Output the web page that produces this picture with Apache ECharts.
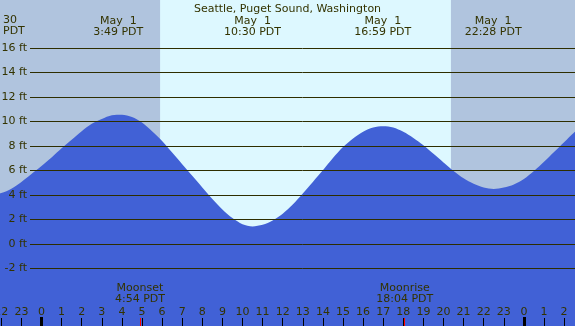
<!DOCTYPE html>
<html>
<head>
<meta charset="utf-8">
<script src="https://cdn.jsdelivr.net/npm/echarts@6/dist/echarts.min.js"></script>
<style>
  html, body { margin: 0; padding: 0; }
  #main { width: 575px; height: 326px; }
</style>
</head>
<body>
<div id="main"></div>
<script>
// tide heights (ft), every half hour from 21:00 Apr 30 (hour -3) to 03:00 May 2 (hour 27)
var hours = [-3, -2.5, -2, -1.5, -1, -0.5, 0, 0.5, 1, 1.5, 2, 2.5, 3, 3.5, 4, 4.5, 5, 5.5, 6, 6.5,
  7, 7.5, 8, 8.5, 9, 9.5, 10, 10.5, 11, 11.5, 12, 12.5, 13, 13.5, 14, 14.5, 15, 15.5, 16, 16.5,
  17, 17.5, 18, 18.5, 19, 19.5, 20, 20.5, 21, 21.5, 22, 22.5, 23, 23.5, 24, 24.5, 25, 25.5, 26, 26.5, 27];
var heights = [4.15, 4.05, 4.15, 4.5, 5.05, 5.7, 6.35, 7.05, 7.8, 8.5, 9.2, 9.8, 10.2, 10.5, 10.55, 10.35, 9.9, 9.2, 8.4, 7.45,
  6.5, 5.55, 4.6, 3.65, 2.8, 2.1, 1.6, 1.42, 1.55, 1.9, 2.45, 3.2, 4.1, 5.05, 6.0, 7.0, 7.9, 8.6, 9.15, 9.5,
  9.6, 9.5, 9.15, 8.65, 8.05, 7.35, 6.65, 5.95, 5.35, 4.9, 4.6, 4.48, 4.6, 4.85, 5.3, 5.95, 6.7, 7.5, 8.3, 9.1, 9.7];

var ftTicks = [-2, 0, 2, 4, 6, 8, 10, 12, 14, 16];

var extremeTimes = [3.82, 10.5, 16.98, 22.47];
var extremeLabels = ['May  1\n3:49 PDT', 'May  1\n10:30 PDT', 'May  1\n16:59 PDT', 'May  1\n22:28 PDT'];

var moonTimes = [4.9, 18.07];
var moonLabels = ['Moonset\n4:54 PDT', 'Moonrise\n18:04 PDT'];

var midnights = [0, 24];
var sunrise = 5.9, sunset = 20.37;

var tideData = hours.map(function (h, i) { return [h, heights[i]]; });

var TXT = '#333300';
var FONT = 'DejaVu Sans';
var X_MIN = -3, X_MAX = 27;
var Y_MIN = -6.72, Y_MAX = 19.92;

var myChart = echarts.init(document.getElementById('main'));

function lookup(vals, labels) {
  return function (v) {
    for (var i = 0; i < vals.length; i++) {
      if (Math.abs(vals[i] - v) < 1e-6) return labels[i];
    }
    return '';
  };
}

var bottomAxis = {
  type: 'value', gridIndex: 0, position: 'bottom', offset: 0,
  min: X_MIN, max: X_MAX,
  axisLine: { show: false, onZero: false },
  splitLine: { show: false }
};

myChart.setOption({
  animation: false,
  backgroundColor: '#ddf8ff',
  textStyle: { fontFamily: FONT },
  title: {
    text: 'Seattle, Puget Sound, Washington',
    left: 'center',
    top: 0,
    padding: [4, 0, 0, 0],
    textStyle: { color: TXT, fontSize: 11, fontWeight: 'normal', fontFamily: FONT }
  },
  graphic: [{
    type: 'text',
    left: 3,
    top: 15,
    z: 100,
    style: { text: '30\nPDT', fill: TXT, font: '11px "DejaVu Sans"', lineHeight: 11 }
  }],
  grid: [
    { left: -18.8, right: -9.2, top: 0, bottom: 0, outerBoundsMode: 'none', containLabel: false },
    { left: 30, right: 0, top: 0, bottom: 0, outerBoundsMode: 'none', containLabel: false }
  ],
  xAxis: [
    Object.assign({}, bottomAxis, {
      // hour ticks along the bottom
      interval: 1, z: 10,
      axisTick: { inside: true, length: 8, lineStyle: { color: '#000', width: 1 } },
      axisLabel: {
        inside: true, margin: 8, color: TXT, fontSize: 11, fontFamily: FONT,
        formatter: function (v) { return String(((v % 24) + 24) % 24); }
      }
    }),
    Object.assign({}, bottomAxis, {
      // midnight marks
      z: 11,
      axisTick: { inside: true, length: 9, customValues: midnights, lineStyle: { color: '#000', width: 3 } },
      axisLabel: { show: false }
    }),
    Object.assign({}, bottomAxis, {
      // moon rise / set
      z: 11,
      axisTick: { inside: true, length: 8, customValues: moonTimes, lineStyle: { color: '#ff0000', width: 1 } },
      axisLabel: {
        inside: true, margin: 21, customValues: moonTimes, color: TXT, fontSize: 11, fontFamily: FONT,
        lineHeight: 11, formatter: lookup(moonTimes, moonLabels)
      }
    }),
    {
      // high / low times along the top
      type: 'value', gridIndex: 0, position: 'top', offset: 0, min: X_MIN, max: X_MAX, z: 11,
      axisLine: { show: false, onZero: false },
      splitLine: { show: false },
      axisTick: { show: false },
      axisLabel: {
        inside: true, margin: 16, customValues: extremeTimes, color: TXT, fontSize: 11, fontFamily: FONT,
        lineHeight: 11, formatter: lookup(extremeTimes, extremeLabels)
      }
    },
    {
      type: 'value', gridIndex: 1, min: 0, max: 1, show: false
    }
  ],
  yAxis: [
    { type: 'value', gridIndex: 0, min: Y_MIN, max: Y_MAX, show: false },
    { type: 'value', gridIndex: 1, min: Y_MIN, max: Y_MAX, show: false }
  ],
  series: [
    {
      name: 'night',
      type: 'line', xAxisIndex: 0, yAxisIndex: 0, z: 1,
      data: [],
      markArea: {
        silent: true,
        itemStyle: { color: '#b0c4de' },
        data: [
          [{ xAxis: X_MIN }, { xAxis: sunrise }],
          [{ xAxis: sunset }, { xAxis: X_MAX }]
        ]
      }
    },
    {
      name: 'tide',
      type: 'line', xAxisIndex: 0, yAxisIndex: 0, z: 2,
      data: tideData,
      smooth: 0.3,
      symbol: 'none',
      lineStyle: { width: 0 },
      areaStyle: { color: '#4161d6', opacity: 1, origin: 'start' }
    },
    {
      name: 'grid',
      type: 'line', xAxisIndex: 4, yAxisIndex: 1, z: 3,
      data: [],
      markLine: {
        silent: true,
        symbol: ['none', 'none'],
        lineStyle: { color: '#2e2e00', width: 1, type: 'solid' },
        label: {
          position: 'start', distance: 3, color: TXT, fontSize: 11, fontFamily: FONT,
          formatter: function (p) { return p.value + ' ft'; }
        },
        data: ftTicks.map(function (v) { return { yAxis: v }; })
      }
    }
  ]
});
</script>
</body>
</html>
